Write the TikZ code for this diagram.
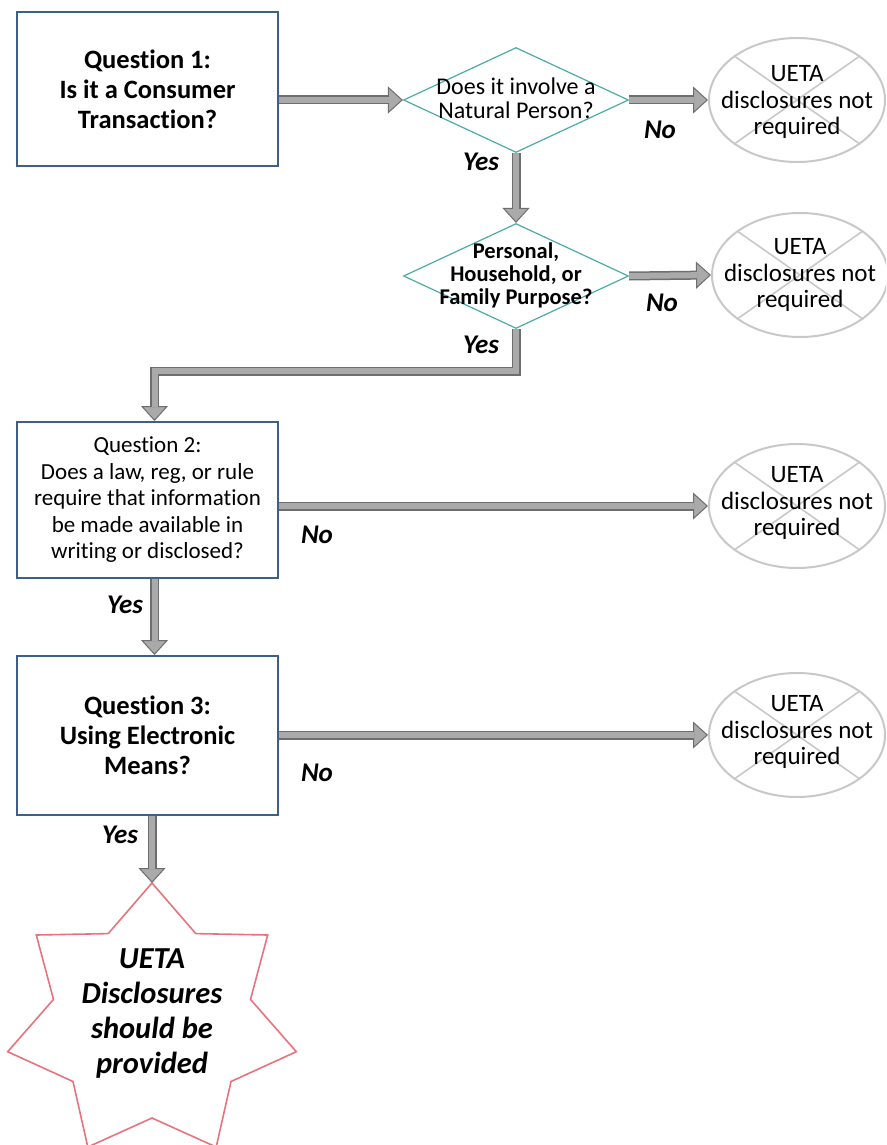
\documentclass[tikz,border=0pt]{standalone}
\usepackage{fontspec}
\setmainfont{Carlito}[Ligatures=NoCommon]
\usetikzlibrary{arrows.meta,shapes.geometric,calc}
\definecolor{boxblue}{RGB}{60,95,140}
\definecolor{tealline}{RGB}{75,172,166}
\definecolor{ellgray}{RGB}{200,200,200}
\definecolor{starred}{RGB}{232,115,125}
\definecolor{arrdark}{RGB}{110,110,110}
\definecolor{arrlight}{RGB}{170,170,170}
\tikzset{
  qbox/.style={draw=boxblue, line width=2pt, minimum width=261pt, inner sep=0pt, align=center},
  qbold/.style={font=\fontsize{26.5}{30}\selectfont\bfseries},
  qreg/.style={font=\fontsize{23}{26.5}\selectfont},
  dia/.style={diamond, draw=tealline, line width=1.2pt, minimum width=225pt, minimum height=105pt, inner sep=0pt},
  dtextA/.style={align=center, inner sep=0pt, font=\fontsize{24}{24}\selectfont},
  dtextB/.style={align=center, inner sep=0pt, font=\fontsize{22.5}{23}\selectfont\bfseries},
  ell/.style={ellipse, draw=ellgray, line width=2pt, minimum width=176pt, minimum height=124pt, inner sep=0pt},
  xline/.style={draw=ellgray, line width=1.6pt},
  etext/.style={align=center, inner sep=0pt, font=\fontsize{25}{26.5}\selectfont},
  lbl/.style={inner sep=0pt, font=\fontsize{27}{30}\selectfont\bfseries\itshape},
  startext/.style={align=center, inner sep=0pt, font=\fontsize{30.5}{35}\selectfont\bfseries\itshape},
  starline/.style={draw=starred, line width=1.6pt, line join=miter},
  bigarr/.style={draw=arrdark, line width=9pt, line join=miter,
    -{Triangle[width=27pt,length=15pt,line width=1pt,fill=arrlight]},
    postaction={draw=arrlight, line width=6pt, shorten >=14pt, -}},
}
\begin{document}
\begin{tikzpicture}[x=1pt,y=-1pt]
\useasboundingbox (0,0) rectangle (886,1145);
\clip (0,0) rectangle (886,1145);

% boxes
\node[qbox, qbold, minimum height=154pt] (box1) at (147.5,89) {Question 1:\\Is it a Consumer\\Transaction?};
\node[qbox, qreg, minimum height=156pt] (box2) at (147.5,500) {Question 2:\\Does a law, reg, or rule\\require that information\\be made available in\\writing or disclosed?};
\node[qbox, qbold, minimum height=159pt] (box3) at (147.5,735.5) {Question 3:\\Using Electronic\\Means?};

% diamonds
\node[dia] (d1) at (516,100) {};
\node[dtextA] (d1t) at (516,98) {Does it involve a\\Natural Person?};
\node[dia] (d2) at (516,276) {};
\node[dtextB] (d2t) at (516,275) {Personal,\\Household, or\\Family Purpose?};

% ellipses
\node[ell] (e1) at (797,100) {};
\draw[xline] (e1.35) -- (e1.215) (e1.145) -- (e1.325);
\node[etext] (e1t) at (797,102) {UETA\\disclosures not\\required};
\node[ell] (e2) at (800,275) {};
\draw[xline] (e2.35) -- (e2.215) (e2.145) -- (e2.325);
\node[etext] (e2t) at (800,275) {UETA\\disclosures not\\required};
\node[ell] (e3) at (797,506) {};
\draw[xline] (e3.35) -- (e3.215) (e3.145) -- (e3.325);
\node[etext] (e3t) at (797,503) {UETA\\disclosures not\\required};
\node[ell] (e4) at (797,735) {};
\draw[xline] (e4.35) -- (e4.215) (e4.145) -- (e4.325);
\node[etext] (e4t) at (797,732) {UETA\\disclosures not\\required};

% star
\draw[starline] (152,883) -- (108.2,933.6) -- (36.3,935.0) -- (53.5,999.4) -- (7.7,1051.7)
  -- (73.0,1081.5) -- (87.8,1147) -- (152,1118) -- (216.2,1147) -- (231.0,1081.5)
  -- (296.3,1051.7) -- (250.5,999.4) -- (267.7,935.0) -- (195.8,933.6) -- cycle;
\coordinate (startop) at (152,883);
\node[startext] (star) at (152,1013) {UETA\\Disclosures\\should be\\provided};

% connectors
\draw[bigarr] (box1.east |- d1.west) -- (d1.west);
\draw[bigarr] (d1.east) -- (e1.west);
\draw[bigarr] (d1.south) -- (d2.north);
\draw[bigarr] (d2.east) -- (e2.west);
\draw[bigarr] (d2.south) -- ++(0,42) -| ([xshift=7pt]box2.north);
\draw[bigarr] (box2.east |- e3.west) -- (e3.west);
\draw[bigarr] ([xshift=7pt]box2.south) -- ([xshift=7pt]box3.north);
\draw[bigarr] (box3.east |- e4.west) -- (e4.west);
\draw[bigarr] (box3.south -| startop) -- (startop);

% labels
\node[lbl] (no1) at (660,130) {No};
\node[lbl] (yes1) at (481,162) {Yes};
\node[lbl] (no2) at (662,303) {No};
\node[lbl] (yes2) at (481,345) {Yes};
\node[lbl] (no3) at (317,535) {No};
\node[lbl] (yes3) at (125,605) {Yes};
\node[lbl] (no4) at (317,773) {No};
\node[lbl] (yes4) at (120,835) {Yes};
\end{tikzpicture}
\end{document}
